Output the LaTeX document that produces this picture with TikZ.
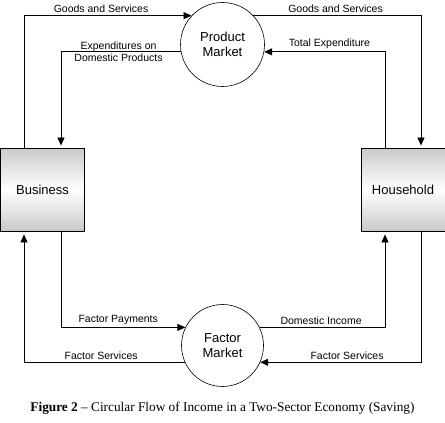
\documentclass[tikz,border=0pt]{standalone}
\usepackage{fontspec}
\setmainfont{Liberation Serif}
\setsansfont{Liberation Sans}
\usetikzlibrary{arrows.meta}
\begin{document}
\begin{tikzpicture}[x=1pt,y=-1pt,
        agent/.style={draw,line width=0.9pt,minimum width=84pt,minimum height=83pt,
            top color=gray!42,bottom color=gray!42,middle color=white,
            font=\sffamily\fontsize{13}{15}\selectfont},
        market/.style={draw,circle,line width=0.6pt,inner sep=0pt,align=center,
            font=\sffamily\fontsize{13}{15}\selectfont},
        flow/.style={line width=0.8pt,-{Triangle[length=8pt,width=7pt]}},
        lbl/.style={font=\sffamily\fontsize{10.5}{11}\selectfont,inner sep=2.5pt}]
        \useasboundingbox (0,0) rectangle (445,423);
        %% sectors and markets
        \node[agent] (business) at (42.5,189.5) {Business};
        \node[agent] (household) at (403,189.5) {Household};
        \node[market,minimum size=84pt] (product) at (222.5,44.5) {Product\\Market};
        \node[market,minimum size=82pt] (factor) at (222.5,345.5) {Factor\\Market};
        %% product market flows
        \draw[flow] ([xshift=-18.5pt]business.north) |- (product.137)
            node[lbl,above,pos=0.73] {Goods and Services};
        \draw[flow,shorten >=2pt] (product.190) -| ([xshift=18.5pt]business.north)
            node[lbl,align=center,pos=0.26,font=\sffamily\fontsize{10.5}{12}\selectfont] {Expenditures on\\Domestic Products};
        \draw[flow,shorten >=2pt] (product.43) -| ([xshift=18pt]household.north)
            node[lbl,above,pos=0.245] {Goods and Services};
        \draw[flow] ([xshift=-18pt]household.north) |- (product.-10)
            node[lbl,above,pos=0.73] {Total Expenditure};
        %% factor market flows
        \draw[flow] ([xshift=18.5pt]business.south) |- (factor.154)
            node[lbl,above,pos=0.73] {Factor Payments};
        \draw[flow,shorten >=3pt] (factor.204) -| ([xshift=-18.5pt]business.south)
            node[lbl,above,pos=0.26] {Factor Services};
        \draw[flow,shorten >=3pt] (factor.26) -| ([xshift=-18pt]household.south)
            node[lbl,above,pos=0.245] {Domestic Income};
        \draw[flow] ([xshift=18pt]household.south) |- (factor.-24)
            node[lbl,above,pos=0.73] {Factor Services};
        %% caption
        \node[font=\fontsize{13.3}{15}\selectfont] (caption) at (222.5,408)
            {\textbf{Figure 2} -- Circular Flow of Income in a Two-Sector Economy (Saving)};
\end{tikzpicture}
\end{document}
